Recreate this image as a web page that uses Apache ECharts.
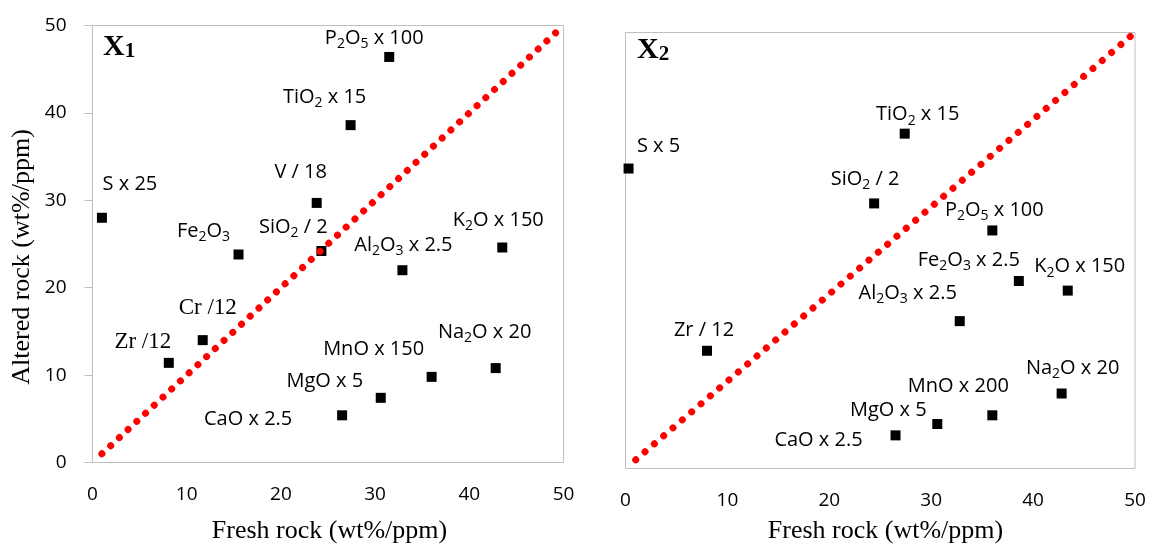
<!DOCTYPE html>
<html>
<head>
<meta charset="utf-8">
<script src="https://cdn.jsdelivr.net/npm/echarts@6/dist/echarts.min.js"></script>
<style>
html,body{margin:0;padding:0;background:#fff;}
#chart{width:1152px;height:546px;}
</style>
</head>
<body>
<div id="chart"></div>
<script>
// ---------- data ----------
const ticks = [0, 10, 20, 30, 40, 50];

const namesX1 = ['S x 25', 'P2O5 x 100', 'TiO2 x 15', 'V / 18', 'SiO2 / 2', 'Fe2O3', 'Al2O3 x 2.5', 'K2O x 150', 'Cr /12', 'Zr /12', 'MnO x 150', 'Na2O x 20', 'MgO x 5', 'CaO x 2.5'];
const freshX1 = [1.0, 31.5, 27.4, 23.8, 24.3, 15.5, 32.9, 43.5, 11.7, 8.1, 36.0, 42.8, 30.6, 26.5];
const alteredX1 = [28.0, 46.4, 38.6, 29.7, 24.2, 23.8, 22.0, 24.6, 14.0, 11.4, 9.8, 10.8, 7.4, 5.4];

const namesX2 = ['S x 5', 'SiO2 / 2', 'TiO2 x 15', 'P2O5 x 100', 'Fe2O3 x 2.5', 'K2O x 150', 'Al2O3 x 2.5', 'Zr / 12', 'Na2O x 20', 'MnO x 200', 'MgO x 5', 'CaO x 2.5'];
const freshX2 = [0.3, 24.4, 27.4, 36.0, 38.6, 43.4, 32.8, 8.0, 42.8, 36.0, 30.6, 26.5];
const alteredX2 = [34.4, 30.4, 38.4, 27.3, 21.5, 20.4, 16.9, 13.5, 8.6, 6.1, 5.1, 3.8];

const diagonalX = [1, 50];
const diagonalY = [1, 50];

// ---------- layout (label offsets, px) ----------
const offsetsX1 = [[28,-33],[-15,-19],[-26,-28],[-16,-31],[-28,-24],[-35,-23],[1,-25],[-4,-27],[5,-32],[-26,-21],[-58,-28],[-11,-36],[-56,-17],[-94,4]];
const serifX1 = ['Cr /12', 'Zr /12'];
const offsetsX2 = [[30,-22],[-9,-24],[13,-19],[2,-20],[-50,-21],[12,-24],[-52,-28],[-3,-20],[11,-25],[-34,-29],[-49,-14],[-77,5]];

const SANS = '"Open Sans", "Noto Sans", sans-serif';
const SERIF = '"Liberation Serif", "DejaVu Serif", serif';

function richName(name) {
  const sp = name.indexOf(' ');
  const head = sp < 0 ? name : name.slice(0, sp);
  const tail = sp < 0 ? '' : name.slice(sp);
  return head.replace(/([A-Za-z])(\d)/g, '$1{s|$2}') + tail;
}

const richSub = {
  s: { fontSize: 14, fontFamily: SANS, color: '#000', verticalAlign: 'bottom', lineHeight: 14 }
};

function buildPoints(names, xs, ys, offsets, serifList) {
  return names.map((n, i) => {
    const serif = serifList && serifList.indexOf(n) >= 0;
    return {
      name: n,
      value: [xs[i], ys[i]],
      label: {
        show: true,
        position: 'inside',
        offset: offsets[i],
        align: 'center',
        verticalAlign: 'middle',
        formatter: richName(n),
        fontFamily: serif ? SERIF : SANS,
        fontSize: serif ? 23 : 20,
        color: '#000',
        lineHeight: 26,
        rich: richSub
      }
    };
  });
}

const diagData = diagonalX.map((x, i) => [x, diagonalY[i]]);

const chart = echarts.init(document.getElementById('chart'), null, { renderer: 'canvas' });

function xAxisCfg(gi) {
  return {
    gridIndex: gi, type: 'value', min: ticks[0], max: ticks[ticks.length - 1], interval: 10,
    axisLine: { show: false }, axisTick: { show: false }, splitLine: { show: false },
    axisLabel: { fontSize: 19, fontFamily: SANS, color: '#000', margin: 23 }
  };
}

const option = {
  animation: false,
  backgroundColor: '#fff',
  grid: [
    { left: 92.5, top: 25.5, width: 471, height: 437, show: true, borderColor: '#bfbfbf', borderWidth: 1, containLabel: false },
    { left: 625.5, top: 32.5, width: 509.5, height: 436, show: true, borderColor: '#bfbfbf', borderWidth: 1, containLabel: false }
  ],
  xAxis: [xAxisCfg(0), xAxisCfg(1)],
  yAxis: [
    {
      gridIndex: 0, type: 'value', min: 0, max: 50, interval: 10,
      axisLine: { show: true, lineStyle: { color: '#bfbfbf', width: 1 } },
      axisTick: { show: true, length: 8, lineStyle: { color: '#bfbfbf', width: 1 } },
      splitLine: { show: false },
      axisLabel: { fontSize: 19, fontFamily: SANS, color: '#000', margin: 26 }
    },
    {
      gridIndex: 1, type: 'value', min: 0, max: 50, interval: 10,
      axisLine: { show: false }, axisTick: { show: false }, splitLine: { show: false },
      axisLabel: { show: false }
    }
  ],
  series: [
    {
      type: 'scatter', xAxisIndex: 0, yAxisIndex: 0, symbol: 'rect', symbolSize: 10,
      itemStyle: { color: '#000', opacity: 1 }, clip: false,
      data: buildPoints(namesX1, freshX1, alteredX1, offsetsX1, serifX1), z: 3
    },
    {
      type: 'line', xAxisIndex: 0, yAxisIndex: 0, symbol: 'none', data: diagData, z: 4,
      lineStyle: { color: '#ff0000', width: 7, type: [0.001, 11.9], cap: 'round' }
    },
    {
      type: 'scatter', xAxisIndex: 1, yAxisIndex: 1, symbol: 'rect', symbolSize: 10,
      itemStyle: { color: '#000', opacity: 1 }, clip: false,
      data: buildPoints(namesX2, freshX2, alteredX2, offsetsX2, null), z: 3
    },
    {
      type: 'line', xAxisIndex: 1, yAxisIndex: 1, symbol: 'none', data: diagData, z: 4,
      lineStyle: { color: '#ff0000', width: 7, type: [0.001, 12.28], cap: 'round' }
    }
  ],
  graphic: [
    {
      type: 'text', x: 103, y: 47, z: 10,
      style: {
        text: '{a|X}{b|1}', align: 'left', verticalAlign: 'middle',
        rich: {
          a: { fontFamily: SERIF, fontWeight: 'bold', fontSize: 30, color: '#000', lineHeight: 30 },
          b: { fontFamily: SERIF, fontWeight: 'bold', fontSize: 21, color: '#000', verticalAlign: 'bottom', lineHeight: 16 }
        }
      }
    },
    {
      type: 'text', x: 637, y: 50, z: 10,
      style: {
        text: '{a|X}{b|2}', align: 'left', verticalAlign: 'middle',
        rich: {
          a: { fontFamily: SERIF, fontWeight: 'bold', fontSize: 30, color: '#000', lineHeight: 30 },
          b: { fontFamily: SERIF, fontWeight: 'bold', fontSize: 21, color: '#000', verticalAlign: 'bottom', lineHeight: 16 }
        }
      }
    },
    {
      type: 'text', x: 329.5, y: 531,
      style: { text: 'Fresh rock (wt%/ppm)', font: '26px ' + SERIF, fill: '#000', align: 'center', verticalAlign: 'middle' }
    },
    {
      type: 'text', x: 885.5, y: 531,
      style: { text: 'Fresh rock (wt%/ppm)', font: '26px ' + SERIF, fill: '#000', align: 'center', verticalAlign: 'middle' }
    },
    {
      type: 'text', x: 22.5, y: 257, rotation: Math.PI / 2,
      style: { text: 'Altered rock (wt%/ppm)', font: '26px ' + SERIF, fill: '#000', align: 'center', verticalAlign: 'middle' }
    }
  ]
};

chart.setOption(option);
</script>
</body>
</html>
